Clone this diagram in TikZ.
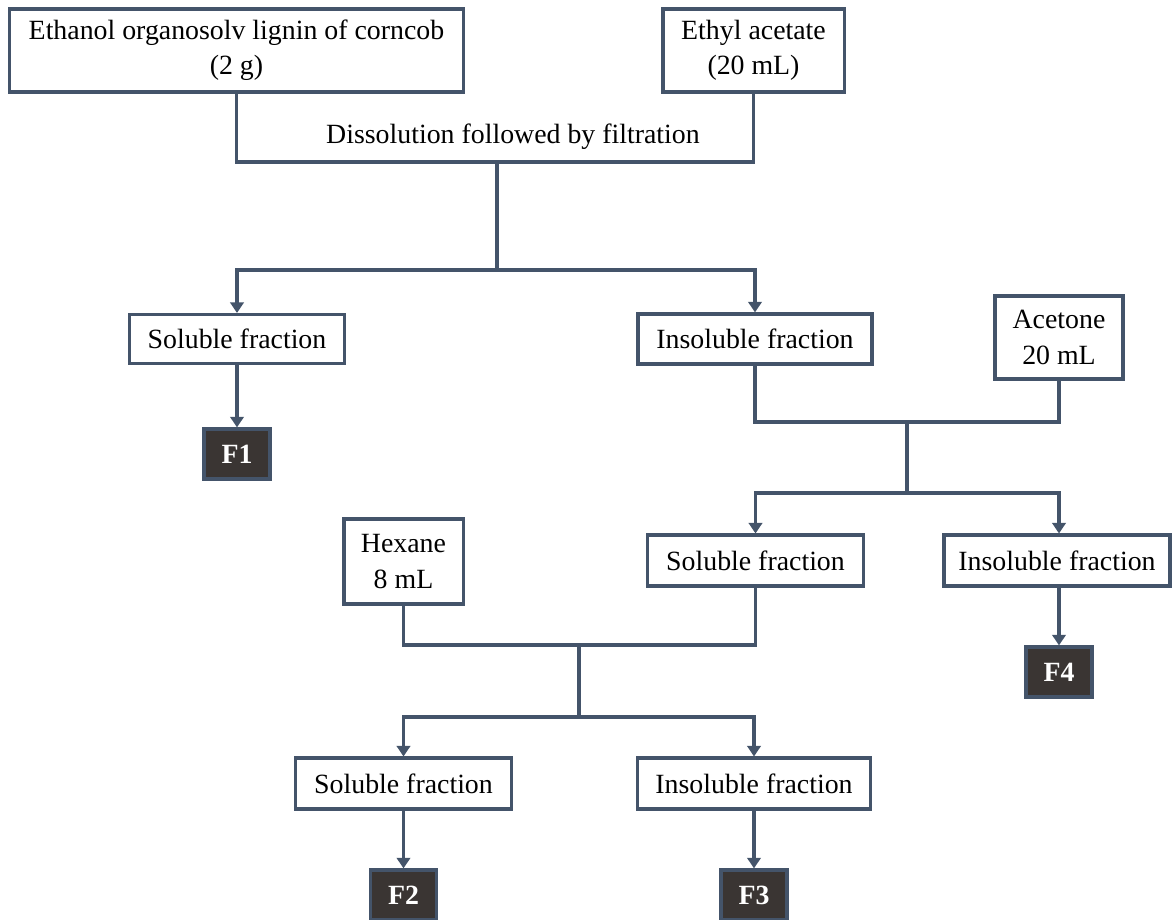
\documentclass[tikz,border=0pt]{standalone}
\usepackage{fontspec}
\setmainfont{Liberation Serif}
\usetikzlibrary{arrows.meta,positioning,calc}
\definecolor{slate}{HTML}{44546A}
\definecolor{coal}{HTML}{3A3533}
\tikzset{
  box/.style={draw=slate,line width=2.3pt,fill=white,align=center,inner sep=0pt,
              font=\fontsize{19.8}{25}\selectfont},
  fnode/.style={draw=slate,line width=2.3pt,fill=coal,text=white,inner sep=0pt,
                minimum width=1.65cm,minimum height=1.25cm,
                font=\fontsize{19.8}{24}\selectfont\bfseries},
  link/.style={draw=slate,line width=2.3pt},
  arr/.style={link,-{Triangle[length=7.5pt,width=9.5pt]}}
}

\begin{document}
\begin{tikzpicture}[x=0.025cm,y=-0.025cm]
  \useasboundingbox (0,0) rectangle (1172,920);
  % starting materials
  \node[box,minimum width=11.33cm,minimum height=2.08cm] (lignin) at (236.5,50.5)
    {Ethanol organosolv lignin\ of corncob\\(2 g)};
  \node[box,minimum width=4.53cm,minimum height=2.08cm] (etac) at (753.5,50.5)
    {Ethyl acetate\\(20 mL)};
  \node[font=\fontsize{19.8}{24}\selectfont] (diss) at (513,137) {Dissolution followed by filtration};
  % first split
  \node[box,minimum width=5.38cm,minimum height=1.22cm] (sol1) at (237,339) {Soluble fraction};
  \node[box,minimum width=5.85cm,minimum height=1.25cm] (ins1) at (755,339) {Insoluble fraction};
  \node[box,minimum width=3.2cm,minimum height=2.08cm] (acet) at (1059,337.5) {Acetone\\20 mL};
  \node[fnode] (F1) at (237,454) {F1};
  % second split
  \node[box,minimum width=5.38cm,minimum height=1.27cm] (sol2) at (755.5,560.5) {Soluble fraction};
  \node[box,minimum width=5.65cm,minimum height=1.27cm] (ins2) at (1057,560.5) {Insoluble fraction};
  \node[box,minimum width=2.98cm,minimum height=2.13cm] (hex) at (403.5,561.5) {Hexane\\8 mL};
  \node[fnode] (F4) at (1059,672) {F4};
  % third split
  \node[box,minimum width=5.38cm,minimum height=1.27cm] (sol3) at (403.5,783.5) {Soluble fraction};
  \node[box,minimum width=5.83cm,minimum height=1.27cm] (ins3) at (754,783.5) {Insoluble fraction};
  \node[fnode] (F2) at (403.5,895) {F2};
  \node[fnode] (F3) at (754,895) {F3};

  \coordinate (mix1) at (497,162);
  \coordinate (split1) at (497,270);
  \coordinate (mix2) at (907,422);
  \coordinate (split2) at (907,493);
  \coordinate (mix3) at (579,645);
  \coordinate (split3) at (579,717);

  \draw[link] (lignin.south) |- (mix1) -| (etac.south);
  \draw[link] (mix1) -- (split1);
  \draw[arr] (split1) -| (sol1.north);
  \draw[arr] (split1) -| (ins1.north);
  \draw[arr] (sol1) -- (F1);

  \draw[link] (ins1.south) |- (mix2) -| (acet.south);
  \draw[link] (mix2) -- (split2);
  \draw[arr] (split2) -| (F4 |- ins2.north);
  \draw[arr] (split2) -| (sol2.north);
  \draw[arr] (ins2.south -| F4) -- (F4);

  \draw[link] (hex.south) |- (mix3) -| (sol2.south);
  \draw[link] (mix3) -- (split3);
  \draw[arr] (split3) -| (sol3.north);
  \draw[arr] (split3) -| (ins3.north);
  \draw[arr] (sol3) -- (F2);
  \draw[arr] (ins3) -- (F3);
\end{tikzpicture}
\end{document}
